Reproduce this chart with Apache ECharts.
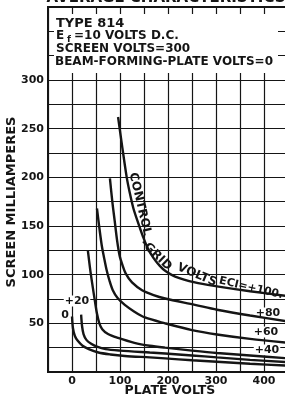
<!DOCTYPE html>
<html>
<head>
<meta charset="utf-8">
<script src="https://cdn.jsdelivr.net/npm/echarts@6/dist/echarts.min.js"></script>
<style>
html, body { margin: 0; padding: 0; background: #fff; }
#chart { width: 285px; height: 397px; }
</style>
</head>
<body>
<div id="chart"></div>
<script>
// control-grid volts for each plate curve
const gridVolts = ['0', '+20', '+40', '+60', '+80', '+100'];

// [plate volts, screen mA]
const curve0 = [[0,57],[2,45],[6,37],[12,32],[22,27],[35,23.5],[55,20],[80,18],[110,16.5],[162,15],[194,14],[250,12],[302,10.5],[371,8.5],[450,6.5]];
const curve20 = [[19,59],[21,47],[24,39],[30,33],[40,29],[52,26],[70,23.5],[100,22],[162,20],[194,19],[250,17],[302,15],[371,12.5],[450,10]];
const curve40 = [[33,125],[38,105],[43,88],[48,72],[52,60],[57,50],[63,44],[75,39],[96,35],[130,30],[162,27],[194,25],[250,22],[302,19.5],[371,17],[450,14]];
const curve60 = [[52,168],[57,148],[62,130],[67,117],[72,105],[78,94],[85,84],[95,76],[110,69],[130,62],[152,56],[194,50],[250,43],[302,38.5],[371,34],[450,30]];
const curve80 = [[79,199],[84,175],[89,155],[94,135],[99,120],[105,110],[112,101],[125,92],[146,84],[170,79],[194,75.5],[256,69],[302,64],[371,58],[450,52]];
const curve100 = [[96,262],[105,230],[114,200],[120,185],[128,168],[138,153],[148,139],[158,127],[170,117],[183,109],[194,104],[215,98],[256,92],[302,88],[371,83],[450,78]];

const xTickLabels = [0, 100, 200, 300, 400];
const yTickLabels = [50, 100, 150, 200, 250, 300];

const headerLines = ['TYPE 814', 'SCREEN VOLTS=300', 'BEAM-FORMING-PLATE VOLTS=0'];

const ink = '#151515';
const face = 'DejaVu Sans';

const chart = echarts.init(document.getElementById('chart'));

const curves = [curve0, curve20, curve40, curve60, curve80, curve100];

function label(text, x, y, size, extra) {
    return Object.assign({
        type: 'text',
        x: x,
        y: y,
        z: 3,
        style: {
            text: text,
            font: 'bold ' + size + 'px "' + face + '"',
            fill: ink,
            textAlign: 'center', align: 'center',
            textVerticalAlign: 'middle', verticalAlign: 'middle'
        }
    }, extra || {})
}

function plain(text, x, y, size) {
    return {
        type: 'text', x: x, y: y, z: 3,
        style: {
            text: text,
            font: 'bold ' + size + 'px "' + face + '"',
            fill: ink,
            textAlign: 'left', align: 'left',
            textVerticalAlign: 'top', verticalAlign: 'top'
        }
    }
}

function boxed(el) {
    el.z = 1.5
    el.style.backgroundColor = '#fff'
    el.style.padding = [0, 1]
    return el
}

const option = {
    animation: false,
    grid: {
        left: 48, top: 7, width: 240, height: 365,
        containLabel: false, outerBoundsMode: 'none',
        show: true, borderColor: ink, borderWidth: 2
    },
    xAxis: {
        type: 'value', min: -50, max: 450, interval: 50,
        axisLine: { show: false },
        axisTick: { show: false },
        splitLine: { lineStyle: { color: ink, width: 1.2 } },
        axisLabel: {
            margin: 4,
            color: ink, fontFamily: face, fontWeight: 'bold', fontSize: 11,
            formatter: v => xTickLabels.includes(v) ? String(v) : ''
        }
    },
    yAxis: {
        type: 'value', min: 0, max: 375, interval: 25,
        axisLine: { show: false },
        axisTick: { show: false },
        splitLine: { lineStyle: { color: ink, width: 1.2 } },
        axisLabel: {
            margin: 4,
            color: ink, fontFamily: face, fontWeight: 'bold', fontSize: 11,
            formatter: v => yTickLabels.includes(v) ? String(v) : ''
        }
    },
    series: curves.map((c, i) => ({
        name: gridVolts[i],
        type: 'line',
        data: c,
        smooth: 0.3,
        symbol: 'none',
        lineStyle: { color: ink, width: 2.4 },
        z: 2
    })),
    graphic: [
        // white header panel, grid shows only as short ticks round it
        { type: 'rect', z: 1, shape: { x: 54, y: 14, width: 224, height: 59 }, style: { fill: '#fff' } },
        plain(headerLines[0], 56, 17, 13),
        plain('E', 56, 30, 12),
        plain('f', 67, 35, 9),
        plain('=10 VOLTS D.C.', 74, 30, 12),
        plain(headerLines[1], 56, 43, 12),
        plain(headerLines[2], 55, 56, 12),
        label('AVERAGE CHARACTERISTICS', 166, -2, 15),
        label('SCREEN MILLIAMPERES', 12, 202, 13, { rotation: Math.PI / 2 }),
        label('PLATE VOLTS', 170, 391, 12.5),
        boxed(label(gridVolts[1], 77, 301, 11)),
        boxed(label(gridVolts[0], 65, 315, 11)),
        boxed(label(gridVolts[4], 268, 313, 11)),
        boxed(label(gridVolts[3], 266, 332, 11)),
        boxed(label(gridVolts[2], 267, 350, 11)),
        label('CONTROL', 140, 204, 12, { rotation: -1.34 }),
        label('-GRID', 156, 255, 12, { rotation: -0.77 }),
        label('VOLTS', 197, 275, 12, { rotation: -0.40 }),
        label('ECI=' + gridVolts[5] + '.', 251, 288, 11, { rotation: -0.23 })
    ]
};

chart.setOption(option);
</script>
</body>
</html>
